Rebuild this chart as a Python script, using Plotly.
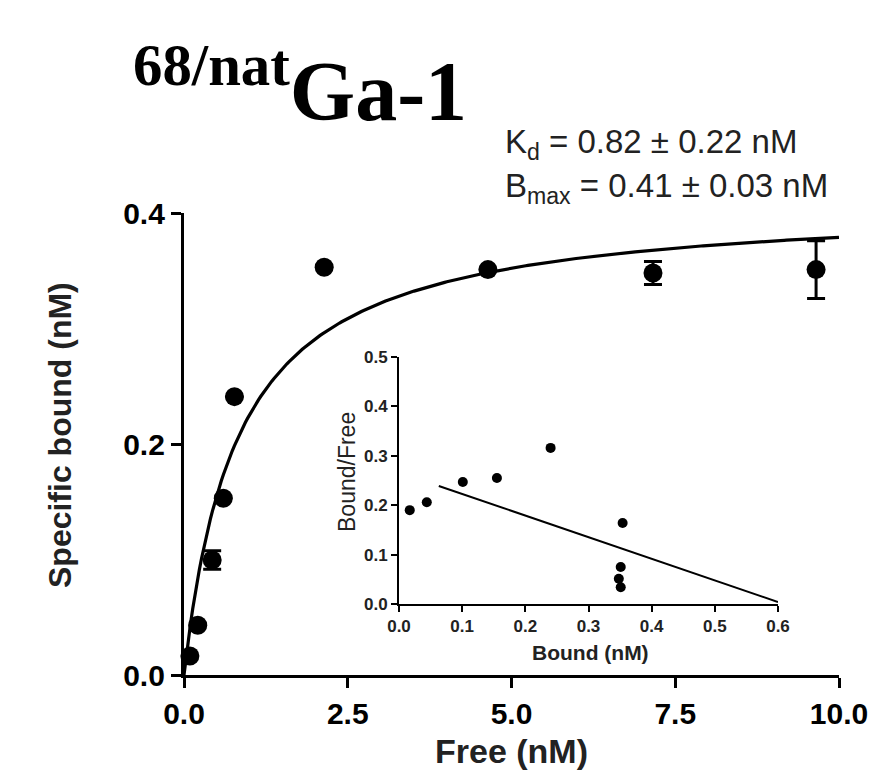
import numpy as np
import plotly.graph_objects as go

# ---- data ----
free_nM = [0.09, 0.21, 0.43, 0.60, 0.77, 2.14, 4.64, 7.16, 9.65]
specific_bound = [0.0165, 0.043, 0.0996, 0.153, 0.241, 0.353, 0.351, 0.348, 0.351]
specific_bound_err = [0, 0, 0.008, 0, 0, 0, 0, 0.010, 0.025]

KD = 0.82
BMAX = 0.41

scatchard_bound = [0.017, 0.044, 0.101, 0.155, 0.240, 0.354, 0.351, 0.348, 0.351]
scatchard_bf = [0.190, 0.206, 0.247, 0.255, 0.316, 0.164, 0.075, 0.051, 0.034]
scatchard_line_x = [0.063, 0.6]
scatchard_line_y = [0.239, 0.004]

main_xticks = [0, 2.5, 5, 7.5, 10]
main_yticks = [0, 0.2, 0.4]
inset_xticks = [0, 0.1, 0.2, 0.3, 0.4, 0.5, 0.6]
inset_yticks = [0, 0.1, 0.2, 0.3, 0.4, 0.5]

# ---- geometry (page pixels; body margin is removed by post_script) ----
W, H = 870, 773
PLOT_L, PLOT_R, PLOT_T, PLOT_B = 184, 839, 213, 675   # page pixels of the plot area
PW, PH = PLOT_R - PLOT_L, PLOT_B - PLOT_T


def px(x):
    return (x - PLOT_L) / PW


def py(y):
    return (PLOT_B - y) / PH


SANS = "Liberation Sans"

fit_x = np.linspace(0, 10, 300)
fit_y = BMAX * fit_x / (KD + fit_x)

fig = go.Figure()
fig.add_trace(go.Scatter(x=fit_x, y=fit_y, mode="lines",
                         line=dict(color="black", width=3.2),
                         xaxis="x", yaxis="y", showlegend=False, hoverinfo="skip"))
fig.add_trace(go.Scatter(x=free_nM, y=specific_bound, mode="markers",
                         marker=dict(color="black", size=19),
                         error_y=dict(type="data", array=specific_bound_err, visible=True,
                                      color="black", thickness=3, width=9),
                         xaxis="x", yaxis="y", showlegend=False, cliponaxis=False))

fig.add_trace(go.Scatter(x=scatchard_line_x, y=scatchard_line_y, mode="lines",
                         line=dict(color="black", width=2),
                         xaxis="x2", yaxis="y2", showlegend=False))
fig.add_trace(go.Scatter(x=scatchard_bound, y=scatchard_bf, mode="markers",
                         marker=dict(color="black", size=10),
                         xaxis="x2", yaxis="y2", showlegend=False, cliponaxis=False))

axis_common = dict(showline=True, linecolor="black", ticks="outside",
                   tickcolor="black", showgrid=False, zeroline=False,
                   ticklabeloverflow="allow", automargin=False)

fig.update_layout(
    width=W, height=H,
    margin=dict(l=PLOT_L, r=W - PLOT_R, t=PLOT_T, b=H - PLOT_B, autoexpand=False),
    paper_bgcolor="white", plot_bgcolor="white",
    xaxis=dict(domain=[0, 1], range=[0, 10], tickvals=main_xticks,
               ticktext=[f"{v:.1f}" for v in main_xticks],
               linewidth=3.2, ticklen=10, tickwidth=3,
               tickfont=dict(family=SANS, size=30, color="black", weight="bold"),
               anchor="y", **axis_common),
    yaxis=dict(domain=[0, 1], range=[0, 0.4], tickvals=main_yticks,
               ticktext=[f"{v:.1f}" for v in main_yticks],
               linewidth=3.2, ticklen=10, tickwidth=3,
               tickfont=dict(family=SANS, size=30, color="black", weight="bold"),
               anchor="x", **axis_common),
    xaxis2=dict(domain=[px(399), px(778)], range=[0, 0.6], tickvals=inset_xticks,
                ticktext=[f"{v:.1f}" for v in inset_xticks],
                linewidth=2, ticklen=6, tickwidth=2,
                tickfont=dict(family=SANS, size=17, color="#222", weight="bold"),
                anchor="y2", **axis_common),
    yaxis2=dict(domain=[py(604), py(357)], range=[0, 0.5], tickvals=inset_yticks,
                ticktext=[f"{v:.1f}" for v in inset_yticks],
                linewidth=2, ticklen=6, tickwidth=2,
                tickfont=dict(family=SANS, size=17, color="#222", weight="bold"),
                anchor="x2", **axis_common),
)

ann = [
    dict(text="<sup>68/nat</sup>Ga-1", x=px(131), y=py(140), xanchor="left", yanchor="bottom",
         font=dict(family="Liberation Serif", size=84, color="black", weight="bold")),
    dict(text="K<sub>d</sub> = 0.82 ± 0.22 nM", x=px(503), y=py(144), xanchor="left", yanchor="middle",
         font=dict(family=SANS, size=33, color="#222")),
    dict(text="B<sub>max</sub> = 0.41 ± 0.03 nM", x=px(503), y=py(188), xanchor="left", yanchor="middle",
         font=dict(family=SANS, size=33, color="#222")),
    dict(text="Specific bound (nM)", x=px(60), y=py(435), textangle=-90,
         xanchor="center", yanchor="middle",
         font=dict(family=SANS, size=32, color="#222", weight="bold")),
    dict(text="Free (nM)", x=px(511), y=py(751), xanchor="center", yanchor="middle",
         font=dict(family=SANS, size=34, color="#222", weight="bold")),
    dict(text="Bound (nM)", x=px(590), y=py(652), xanchor="center", yanchor="middle",
         font=dict(family=SANS, size=21, color="#222", weight="bold")),
    dict(text="Bound/Free", x=px(347), y=py(472), textangle=-90,
         xanchor="center", yanchor="middle",
         font=dict(family=SANS, size=23, color="#222")),
]
for a in ann:
    a.update(xref="paper", yref="paper", showarrow=False)
fig.update_layout(annotations=ann)

fig.write_html("out.html", config={"displayModeBar": False},
               post_script="document.body.style.margin='0';document.documentElement.style.overflow='hidden';")
